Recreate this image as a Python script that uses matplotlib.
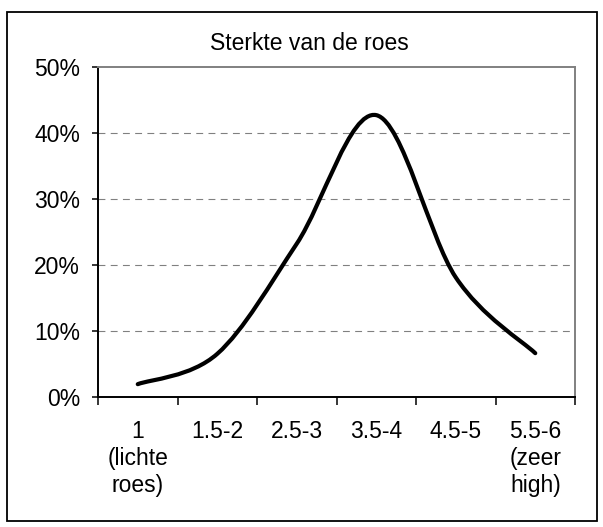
import matplotlib
matplotlib.use("Agg")
import matplotlib.pyplot as plt
from matplotlib.path import Path
from matplotlib.patches import PathPatch, Rectangle
import numpy as np

plt.rcParams['font.family'] = ['Liberation Sans', 'DejaVu Sans']

title = "Sterkte van de roes"
categories = ["1\n(lichte\nroes)", "1.5-2", "2.5-3", "3.5-4", "4.5-5", "5.5-6\n(zeer\nhigh)"]
values = [0.019, 0.065, 0.232, 0.427, 0.181, 0.066]
yticks = [0.0, 0.1, 0.2, 0.3, 0.4, 0.5]
ytick_labels = ["0%", "10%", "20%", "30%", "40%", "50%"]

W, H = 603, 527
fig = plt.figure(figsize=(W / 100, H / 100), dpi=100)

# outer chart frame
fig.patches.append(Rectangle((7 / W, 1 - 521 / H), (597 - 7) / W, (521 - 12) / H,
                             transform=fig.transFigure, fill=False,
                             edgecolor='black', linewidth=1.3, zorder=0))

ax = fig.add_axes([98 / W, 1 - 396.7 / H, (575 - 98) / W, (396.7 - 67) / H])

x = np.arange(len(values))
y = np.array(values)

# Excel-like smoothed line (Catmull-Rom as cubic Bezier)
pts = np.column_stack([x, y]).astype(float)
ext = np.vstack([pts[0], pts, pts[-1]])
verts = [tuple(pts[0])]
codes = [Path.MOVETO]
for i in range(len(pts) - 1):
    p0, p1, p2, p3 = ext[i], ext[i + 1], ext[i + 2], ext[i + 3]
    c1 = p1 + (p2 - p0) / 6.0
    c2 = p2 - (p3 - p1) / 6.0
    verts += [tuple(c1), tuple(c2), tuple(p2)]
    codes += [Path.CURVE4] * 3
ax.add_patch(PathPatch(Path(verts, codes), facecolor='none', edgecolor='black',
                       linewidth=3.0, capstyle='round', joinstyle='round', zorder=3))

ax.set_xlim(-0.5, len(values) - 0.5)
ax.set_ylim(0, 0.5)

# gridlines
for t in yticks[1:-1]:
    ax.axhline(t, color='#808080', linewidth=0.8, linestyle=(0, (6.2, 4.8)), zorder=1)

ax.set_yticks(yticks)
ax.set_yticklabels(ytick_labels, fontsize=16.5)
ax.tick_params(axis='y', direction='out', length=4.3, width=1.1, pad=8.6, color='black')

ax.set_xticks(np.arange(-0.5, len(values), 1.0))
ax.set_xticklabels([])
ax.set_xticks(x, minor=True)
ax.set_xticklabels(categories, minor=True, fontsize=16.5, va='top', ha='center')
ax.tick_params(axis='x', which='major', direction='out', length=5.8, width=1.1, color='black')
ax.tick_params(axis='x', which='minor', length=0, pad=17)

for s in ['left', 'bottom']:
    ax.spines[s].set_color('black')
    ax.spines[s].set_linewidth(1.4)
for s in ['top', 'right']:
    ax.spines[s].set_color('#808080')
    ax.spines[s].set_linewidth(1.4)

fig.text(309 / W, 1 - 50 / H, title, ha='center', va='baseline', fontsize=16.5)

fig.savefig("out.png", dpi=100)
